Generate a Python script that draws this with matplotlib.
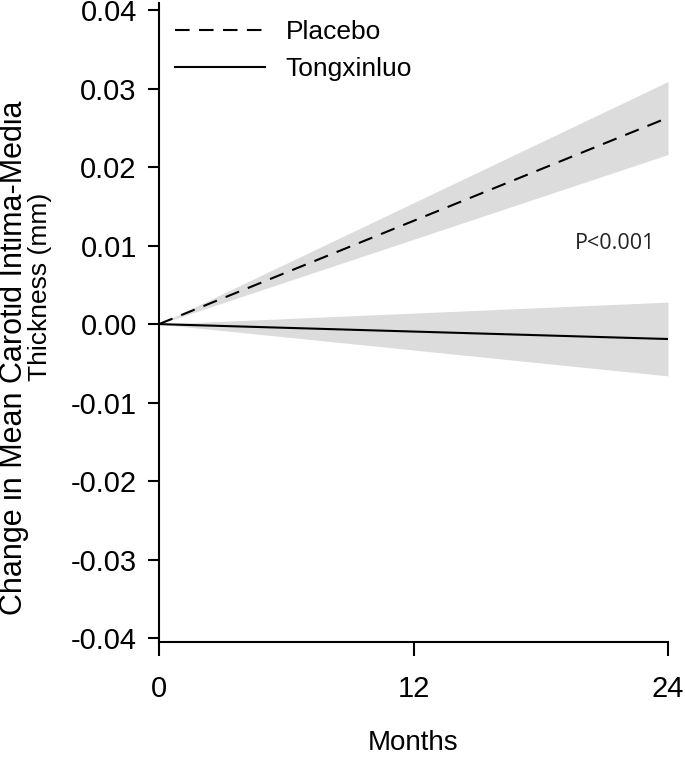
import matplotlib
matplotlib.use("Agg")
import matplotlib.pyplot as plt

plt.rcParams['font.family'] = ['Liberation Sans', 'DejaVu Sans']

# months from baseline
months = [0, 24]
xticks = [0, 12, 24]

# change in mean carotid IMT (mm), mean and 95% band
placebo_mean = [0.0, 0.0263]
placebo_lo = [0.0, 0.0216]
placebo_hi = [0.0, 0.0309]

txl_mean = [0.0, -0.0019]
txl_lo = [0.0, -0.0066]
txl_hi = [0.0, 0.0028]

yticks = [0.04, 0.03, 0.02, 0.01, 0.0, -0.01, -0.02, -0.03, -0.04]

fig = plt.figure(figsize=(6.85, 7.58), dpi=100)
ax = fig.add_axes([0.2321, 0.1530, 0.7431, 0.843])

band = "#dcdcdc"
ax.fill_between(months, placebo_lo, placebo_hi, color=band, lw=0)
ax.fill_between(months, txl_lo, txl_hi, color=band, lw=0)
ax.plot(months, placebo_mean, color="black", lw=1.5, dashes=(7, 4.5), label="Placebo")
ax.plot(months, txl_mean, color="black", lw=1.5, label="Tongxinluo")

ax.set_xlim(0, 24)
ax.set_ylim(-0.0405, 0.0409)
ax.set_xticks(xticks)
ax.set_xticklabels([str(m) for m in xticks])
ax.set_yticks(yticks)
ax.set_yticklabels(["%.2f" % v for v in yticks])

for s in ["top", "right"]:
    ax.spines[s].set_visible(False)
for s in ["left", "bottom"]:
    ax.spines[s].set_linewidth(1.5)
ax.tick_params(axis="y", direction="out", length=8, width=1.5, labelsize=21, pad=8)
ax.tick_params(axis="x", direction="out", length=10, width=1.5, labelsize=21, pad=14)

ax.set_xlabel("Months", fontsize=20, labelpad=19)

fig.text(0.021, 0.528, "Change in Mean Carotid Intima-Media", rotation=90,
         ha="center", va="center", fontsize=22)
fig.text(0.059, 0.621, "Thickness (mm)", rotation=90,
         ha="center", va="center", fontsize=19)

ax.text(0.896, 0.624, "P<0.001", transform=ax.transAxes, ha="center", va="center",
        fontsize=15.5, color="#222222", family=["Open Sans", "DejaVu Sans"])

ax.legend(loc="upper left", bbox_to_anchor=(0.0, 0.998), frameon=False,
          fontsize=19, handlelength=3.4, handletextpad=0.8, labelspacing=0.5,
          borderaxespad=0.2)

fig.savefig("out.png", dpi=100)
